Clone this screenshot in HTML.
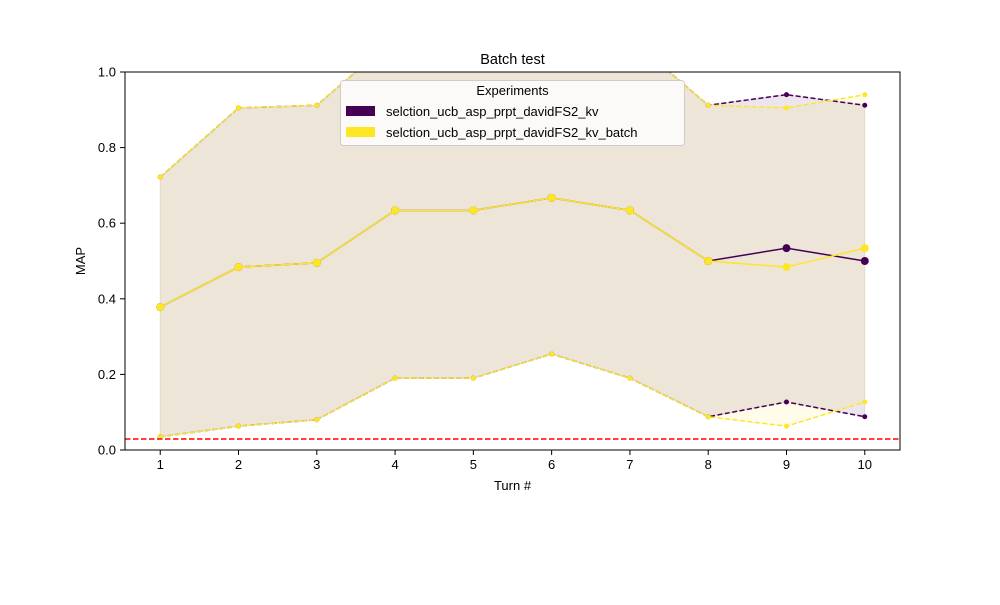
<!DOCTYPE html>
<html><head><meta charset="utf-8"><style>
body{margin:0;background:#fff;}
svg{font-family:"Liberation Sans","DejaVu Sans",sans-serif;}
</style></head><body>
<svg id="chart" width="1000" height="600" viewBox="0 0 1000 600">
<defs><clipPath id="clip"><rect x="125" y="72" width="775" height="378"/></clipPath></defs>
<rect width="1000" height="600" fill="#fff"/>
<text x="512.5" y="64" text-anchor="middle" font-size="14.5">Batch test</text>
<g id="plot" clip-path="url(#clip)"></g>
<rect x="125" y="72" width="775" height="378" fill="none" stroke="#000" stroke-width="1"/>
<g id="axes"></g>
<text x="512.5" y="490" text-anchor="middle" font-size="13">Turn #</text>
<text x="85" y="261" text-anchor="middle" font-size="13" transform="rotate(-90 85 261)">MAP</text>
<g>
<rect x="340.5" y="80.5" width="344" height="65" rx="3" fill="#fff" fill-opacity="0.8" stroke="#ccc"/>
<text x="512.5" y="95" text-anchor="middle" font-size="13">Experiments</text>
<rect x="346" y="106" width="29" height="10" fill="#440154"/>
<text x="386" y="116" font-size="13">selction_ucb_asp_prpt_davidFS2_kv</text>
<rect x="346" y="127" width="29" height="10" fill="#fde725"/>
<text x="386" y="137" font-size="13">selction_ucb_asp_prpt_davidFS2_kv_batch</text>
</g>
</svg>
<script>
const turns=[1,2,3,4,5,6,7,8,9,10];
const meanA=[0.378,0.484,0.495,0.634,0.634,0.667,0.634,0.5,0.534,0.5];
const upperA=[0.722,0.905,0.912,1.09,1.09,1.10,1.09,0.912,0.94,0.912];
const lowerA=[0.035,0.063,0.08,0.19,0.19,0.254,0.19,0.088,0.127,0.088];
const meanB=[0.378,0.484,0.495,0.634,0.634,0.667,0.634,0.5,0.484,0.534];
const upperB=[0.722,0.905,0.912,1.09,1.09,1.10,1.09,0.912,0.905,0.94];
const lowerB=[0.035,0.063,0.08,0.19,0.19,0.254,0.19,0.088,0.063,0.127];
const baseline=0.029;
const xTicks=[1,2,3,4,5,6,7,8,9,10];
const yTicks=[0,0.2,0.4,0.6,0.8,1.0];
const NS="http://www.w3.org/2000/svg";
const X=v=>125+(v-0.55)/9.9*775;
const Y=v=>450-v*378;
function mk(tag,attrs,parent){const e=document.createElementNS(NS,tag);for(const k in attrs)e.setAttribute(k,attrs[k]);parent.appendChild(e);return e;}
const plot=document.getElementById('plot'),axes=document.getElementById('axes');
function band(lo,hi,col,name){
  const pts=turns.map((t,i)=>X(t)+','+Y(hi[i])).concat(turns.slice().reverse().map((t,j)=>{const i=turns.length-1-j;return X(t)+','+Y(lo[i]);}));
  const p=mk('polygon',{points:pts.join(' '),fill:col,'fill-opacity':0.1,stroke:col,'stroke-opacity':0.1,'stroke-width':1},plot);
  
  
}
function series(vals,col,dash,r,name){
  const pl=mk('polyline',{points:turns.map((t,i)=>X(t)+','+Y(vals[i])).join(' '),fill:'none',stroke:col,'stroke-width':1.5,'stroke-dasharray':dash},plot);
  
  
  turns.forEach((t,i)=>{const c=mk('circle',{cx:X(t),cy:Y(vals[i]),r:r,fill:col},plot);
    
    });
}
band(lowerA,upperA,'#440154','band-kv');
band(lowerB,upperB,'#fde725','band-kv-batch');
series(upperA,'#440154','5,2.5',2.5,'upper-kv');
series(lowerA,'#440154','5,2.5',2.5,'lower-kv');
series(meanA,'#440154','',4,'mean-kv');
series(upperB,'#fde725','5,2.5',2.5,'upper-kv-batch');
series(lowerB,'#fde725','5,2.5',2.5,'lower-kv-batch');
series(meanB,'#fde725','',4,'mean-kv-batch');
const bl=mk('line',{x1:125,x2:900,y1:Y(baseline),y2:Y(baseline),stroke:'#ff0000','stroke-width':1.5,'stroke-dasharray':'5.5,2.5'},plot);


xTicks.forEach(t=>{mk('line',{x1:X(t),x2:X(t),y1:450,y2:455,stroke:'#000'},axes);
  const tx=mk('text',{x:X(t),y:469,'text-anchor':'middle','font-size':13},axes);tx.textContent=t;
  
  });
yTicks.forEach(v=>{mk('line',{x1:120,x2:125,y1:Y(v),y2:Y(v),stroke:'#000'},axes);
  const tx=mk('text',{x:116,y:Y(v)+4.5,'text-anchor':'end','font-size':13},axes);tx.textContent=v.toFixed(1);
  
  });
</script>
</body></html>
